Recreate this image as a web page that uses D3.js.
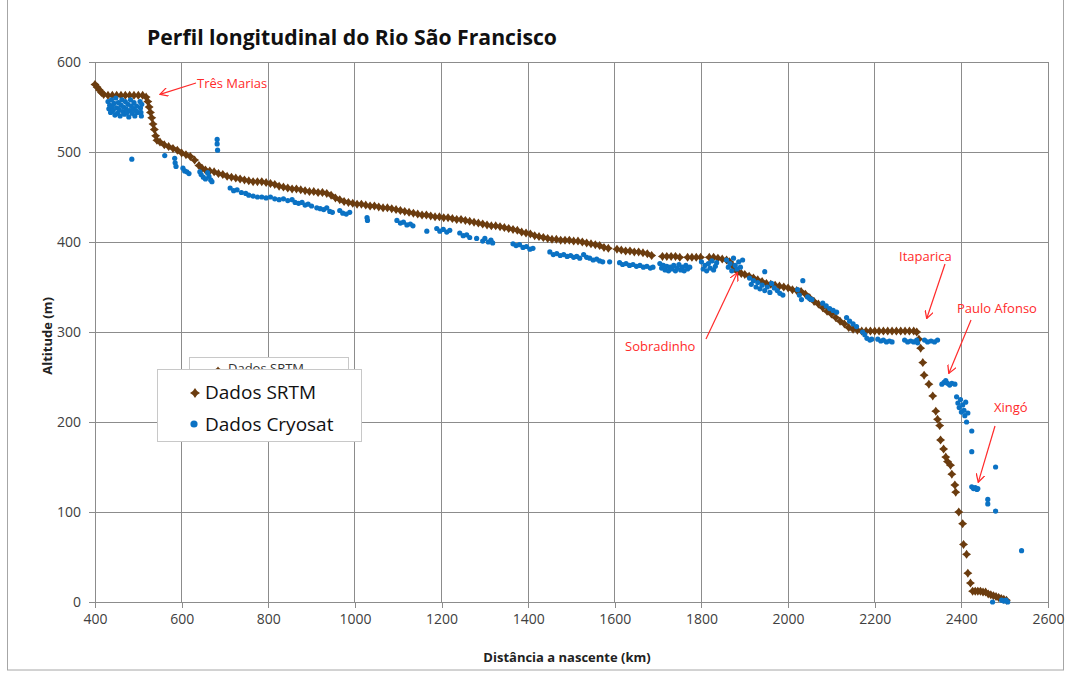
<!DOCTYPE html>
<html lang="pt">
<head>
  <meta charset="UTF-8">
  <title>Perfil longitudinal do Rio São Francisco</title>
  <script src="https://d3js.org/d3.v7.min.js"></script>
  <style>
    body { margin: 0; background: #fff; font-family: "Open Sans", sans-serif; }
    .grid line { stroke: #8c8c8c; stroke-width: 1px; shape-rendering: crispEdges; }
    .axis path, .axis line { stroke: #8c8c8c; shape-rendering: crispEdges; }
    .axis text { font-family: "Open Sans", sans-serif; font-size: 14px; fill: #404040; }
    .note { font-family: "Open Sans", sans-serif; font-size: 13px; fill: #ff2a2a; }
  </style>
</head>
<body>
  <svg width="1071" height="675"></svg>

  <script>
    // altitude profile read from the SRTM series, [km, m]
    const srtm = [
      [400,575],[405,572],[410,569],[415,566],[420,564],[430,563],[440,563],[450,563],[460,563],[470,563],
      [480,563],[490,563],[500,563],[510,563],[518,561],[522,556],[525,550],[528,544],[531,538],[534,531],
      [537,525],[540,518],[543,513],[550,511],[560,508],[570,506],[580,504],[590,502],[600,499],[610,497],
      [620,495],[630,491],[640,485],[647,482],[655,480],[665,479],[675,478],[685,476],[695,475],[705,473],
      [715,472],[725,471],[735,470],[745,469],[755,468],[765,467],[775,467],[785,467],[795,466],[805,465],
      [815,464],[825,462],[835,461],[845,460],[855,459],[865,459],[875,458],[885,457],[895,456],[905,456],
      [915,455],[925,455],[935,454],[945,452],[955,449],[965,447],[975,445],[985,444],[995,443],[1005,442],
      [1015,442],[1025,441],[1035,440],[1045,440],[1055,439],[1065,438],[1075,438],[1085,437],[1095,436],
      [1105,435],[1115,434],[1125,433],[1135,432],[1145,431],[1155,430],[1165,430],[1175,429],[1185,428],
      [1195,428],[1205,427],[1215,427],[1225,426],[1235,425],[1245,425],[1255,424],[1265,423],[1275,422],
      [1285,421],[1295,420],[1305,419],[1315,418],[1325,418],[1335,417],[1345,416],[1355,415],[1365,414],
      [1375,413],[1385,411],[1395,410],[1405,409],[1415,407],[1425,406],[1435,405],[1445,404],[1455,403],
      [1465,403],[1475,402],[1485,402],[1495,402],[1505,401],[1515,401],[1525,400],[1535,399],[1545,398],
      [1555,397],[1565,396],[1575,394],[1585,393],[1605,392],[1615,391],[1625,390],[1635,390],[1645,389],
      [1655,389],[1665,388],[1675,387],[1685,385],[1710,384],[1720,384],[1730,384],[1740,384],[1750,383],
      [1768,383],[1778,383],[1788,383],[1798,383],[1818,383],[1828,383],[1838,382],[1848,381],[1858,380],
      [1865,378],[1872,374],[1878,370],[1884,367],[1892,365],[1900,364],[1910,362],[1920,360],[1930,358],
      [1940,356],[1950,354],[1960,353],[1970,352],[1980,351],[1990,350],[2000,349],[2010,347],[2020,346],
      [2030,345],[2040,342],[2050,338],[2060,334],[2070,331],[2080,327],[2090,323],[2100,320],[2110,316],
      [2120,312],[2130,309],[2140,305],[2150,303],[2160,302],[2170,301],[2180,301],[2190,301],[2200,301],
      [2210,301],[2220,301],[2230,301],[2240,301],[2250,301],[2260,301],[2270,301],[2280,301],[2290,301],
      [2297,300],[2302,292],[2306,282],[2311,266],[2314,252],[2325,242],[2334,229],[2341,212],[2345,203],
      [2350,196],[2352,180],[2359,170],[2364,161],[2368,156],[2375,152],[2378,142],[2385,130],[2387,122],
      [2394,100],[2403,87],[2405,64],[2412,53],[2415,32],[2421,21],[2426,12],[2432,12],[2438,12],[2444,12],
      [2450,11],[2456,11],[2462,9],[2468,8],[2474,7],[2480,6],[2486,5],[2492,4],[2498,3],[2504,2]
    ];

    // Cryosat altimetry points, [km, m]
    const cryosat = [
      [430,556],[432,548],[434,552],[436,544],[438,558],[440,550],[442,546],[444,554],[446,541],[448,560],
      [450,549],[452,543],[454,555],[456,547],[458,540],[460,552],[462,558],[464,545],[466,550],[468,542],
      [470,556],[472,548],[474,544],[476,553],[478,539],[480,546],[482,558],[484,551],[486,543],[488,548],
      [490,555],[492,540],[494,546],[496,551],[498,544],[504,556],[505,549],[506,544],[507,540],[508,553],
      [485,492],[561,496],[584,493],[585,488],[587,484],[603,482],[607,479],[612,478],[617,476],
      [642,478],[645,475],[650,472],[655,470],[660,477],[663,473],[667,469],[670,467],
      [682,514],[682,509],[683,502],
      [712,460],[720,457],[728,458],[738,455],[748,454],[755,452],[765,451],[775,450],[785,450],[795,449],
      [805,450],[815,448],[825,447],[835,448],[845,446],[855,447],[862,444],[870,443],[878,444],[885,441],
      [892,442],[900,440],[912,438],[920,437],[928,436],[935,438],[942,434],[948,433],[965,435],[972,432],
      [980,431],[988,433],[1028,427],[1029,424],
      [1097,424],[1105,421],[1112,422],[1120,419],[1128,420],[1134,418],
      [1166,412],[1189,415],[1196,412],[1204,414],[1212,411],[1219,413],[1242,410],[1250,407],[1258,408],
      [1265,405],[1281,404],[1295,401],[1300,404],[1308,400],[1314,402],[1318,399],
      [1365,398],[1372,396],[1380,397],[1388,394],[1396,395],[1404,392],[1411,393],
      [1450,389],[1458,386],[1466,387],[1474,385],[1482,386],[1490,384],[1498,385],[1505,383],[1512,384],
      [1519,382],[1528,386],[1535,383],[1542,382],[1550,380],[1558,381],[1565,379],[1572,378],[1588,378],
      [1611,377],[1618,375],[1626,376],[1634,374],[1642,375],[1650,373],[1658,374],[1666,372],[1674,373],
      [1682,371],[1688,372],
      [1704,376],[1708,371],[1712,374],[1716,369],[1720,373],[1724,368],[1728,372],[1732,370],[1736,374],
      [1740,368],[1744,371],[1748,375],[1752,369],[1756,372],[1760,368],[1764,374],[1768,370],[1773,372],
      [1800,378],[1804,370],[1808,374],[1812,368],[1816,376],[1820,371],[1824,379],[1828,369],[1832,373],
      [1835,377],[1858,380],[1862,372],[1866,376],[1870,368],[1874,382],[1878,374],[1882,370],[1886,378],
      [1890,372],[1895,380],
      [1911,360],[1915,353],[1920,357],[1926,350],[1930,355],[1935,348],[1940,352],[1946,367],[1946,346],
      [1952,350],[1958,344],[1962,354],[1968,349],[1975,346],[1981,343],[1988,341],[2022,347],[2026,341],
      [2031,336],[2034,357],[2045,339],[2050,337],[2055,336],
      [2080,332],[2088,329],[2096,326],[2104,324],[2112,322],[2135,316],[2142,312],[2150,309],[2158,306],
      [2172,300],[2177,297],[2182,293],[2189,291],[2193,292],
      [2207,292],[2214,290],[2220,291],[2227,289],[2234,290],[2240,289],
      [2269,291],[2276,289],[2283,290],[2290,289],[2297,291],[2299,288],
      [2315,291],[2322,289],[2330,290],[2338,289],[2345,291],
      [2355,242],[2360,244],[2364,246],[2368,243],[2373,241],[2378,243],[2385,242],
      [2389,228],[2392,221],[2395,216],[2398,225],[2400,211],[2403,219],[2406,213],[2408,207],[2410,222],
      [2412,200],[2415,210],[2424,190],[2424,167],[2479,150],
      [2424,128],[2428,126],[2432,127],[2436,125],[2438,126],[2461,114],[2461,109],[2479,101],[2539,57],
      [2472,0],[2493,2],[2498,1],[2503,2],[2507,0]
    ];

    const xTicks = [400, 600, 800, 1000, 1200, 1400, 1600, 1800, 2000, 2200, 2400, 2600];
    const yTicks = [0, 100, 200, 300, 400, 500, 600];

    // reservoir labels: [name, text x, text y, arrow from x, from y, to km, to m]
    const notes = [
      ["Três Marias", 197, 88, 196, 83, 550, 564],
      ["Sobradinho", 625, 351, 706, 339, 1883, 366],
      ["Itaparica", 899, 261, 945, 264, 2320, 315],
      ["Paulo Afonso", 957, 313, 971, 320, 2371, 254],
      ["Xingó", 994, 412, 995, 426, 2439, 133]
    ];

    const svg = d3.select("svg"),
          margin = { top: 62, right: 23, bottom: 73, left: 95 },
          width = +svg.attr("width") - margin.left - margin.right,
          height = +svg.attr("height") - margin.top - margin.bottom;

    const x = d3.scaleLinear().domain([400, 2600]).range([margin.left, margin.left + width]);
    const y = d3.scaleLinear().domain([0, 600]).range([margin.top + height, margin.top]);

    // chart frame
    svg.append("rect")
      .attr("x", 7.5).attr("y", -1).attr("width", 1056).attr("height", 671)
      .attr("fill", "none").attr("stroke", "#a6a6a6");

    // gridlines
    svg.append("g").attr("class", "grid")
      .selectAll("line").data(yTicks).join("line")
      .attr("x1", x(400)).attr("x2", x(2600))
      .attr("y1", d => y(d)).attr("y2", d => y(d));
    svg.append("g").attr("class", "grid")
      .selectAll("line").data(xTicks).join("line")
      .attr("x1", d => x(d)).attr("x2", d => x(d))
      .attr("y1", y(0)).attr("y2", y(600));

    svg.append("g").attr("class", "axis")
      .attr("transform", `translate(0,${y(0)})`)
      .call(d3.axisBottom(x).tickValues(xTicks).tickSize(6).tickPadding(6).tickFormat(d3.format("d")));
    svg.append("g").attr("class", "axis")
      .attr("transform", `translate(${x(400)},0)`)
      .call(d3.axisLeft(y).tickValues(yTicks).tickSize(6).tickPadding(8));

    // markers
    const brown = "#6b3c0f", blue = "#0b72c4";
    const star = r => {
      const w = r * 0.42;
      return `M0,${-r}L${w},${-w}L${r},0L${w},${w}L0,${r}L${-w},${w}L${-r},0L${-w},${-w}Z`;
    };

    svg.append("g").selectAll("path").data(srtm).join("path")
      .attr("d", star(4.5))
      .attr("transform", d => `translate(${x(d[0])},${y(d[1])})`)
      .attr("fill", brown);

    svg.append("g").selectAll("circle").data(cryosat).join("circle")
      .attr("cx", d => x(d[0])).attr("cy", d => y(d[1])).attr("r", 2.6)
      .attr("fill", blue);

    // title and axis titles
    svg.append("text")
      .attr("x", 147).attr("y", 45)
      .attr("textLength", 410).attr("lengthAdjust", "spacingAndGlyphs")
      .style("font-size", "21px").style("font-weight", "bold").style("fill", "#111")
      .text("Perfil longitudinal  do Rio São Francisco");

    svg.append("text")
      .attr("x", 567).attr("y", 662).attr("text-anchor", "middle")
      .style("font-size", "13px").style("font-weight", "bold").style("fill", "#222")
      .text("Distância a nascente (km)");

    svg.append("text")
      .attr("transform", "translate(52,336) rotate(-90)").attr("text-anchor", "middle")
      .style("font-size", "13px").style("font-weight", "bold").style("fill", "#222")
      .text("Altitude (m)");

    // annotations
    svg.append("defs").append("marker")
      .attr("id", "arrow").attr("viewBox", "0 0 10 10")
      .attr("refX", 9).attr("refY", 5).attr("markerWidth", 9).attr("markerHeight", 9)
      .attr("markerUnits", "userSpaceOnUse").attr("orient", "auto")
      .append("path").attr("d", "M0,0L9,5L0,10")
      .attr("fill", "none").attr("stroke", "#ff2a2a").attr("stroke-width", 1.4);

    const note = svg.append("g").selectAll("g").data(notes).join("g");
    note.append("line")
      .attr("x1", d => d[3]).attr("y1", d => d[4])
      .attr("x2", d => x(d[5])).attr("y2", d => y(d[6]))
      .attr("stroke", "#ff2a2a").attr("stroke-width", 1.2)
      .attr("marker-end", "url(#arrow)");
    note.append("text").attr("class", "note")
      .attr("x", d => d[1]).attr("y", d => d[2])
      .text(d => d[0]);

    // legend (a stale copy sits behind the real one)
    const ghost = svg.append("g");
    ghost.append("rect").attr("x", 189.5).attr("y", 357.5).attr("width", 159).attr("height", 30)
      .attr("fill", "#fff").attr("stroke", "#c8c8c8");
    ghost.append("path").attr("d", star(2.5)).attr("transform", "translate(218,369)").attr("fill", brown);
    ghost.append("text").attr("x", 228).attr("y", 373).style("font-size", "13px").style("fill", "#333")
      .text("Dados SRTM");

    const legend = svg.append("g");
    legend.append("rect").attr("x", 157.5).attr("y", 369.5).attr("width", 204).attr("height", 72)
      .attr("fill", "#fff").attr("stroke", "#c8c8c8");
    legend.append("path").attr("d", star(5)).attr("transform", "translate(195,393)").attr("fill", brown);
    legend.append("circle").attr("cx", 194).attr("cy", 424).attr("r", 3.6).attr("fill", blue);
    legend.append("text").attr("x", 205).attr("y", 399).style("font-size", "19px").style("fill", "#111")
      .text("Dados SRTM");
    legend.append("text").attr("x", 205).attr("y", 431).style("font-size", "19px").style("fill", "#111")
      .text("Dados Cryosat");
  </script>
</body>
</html>
